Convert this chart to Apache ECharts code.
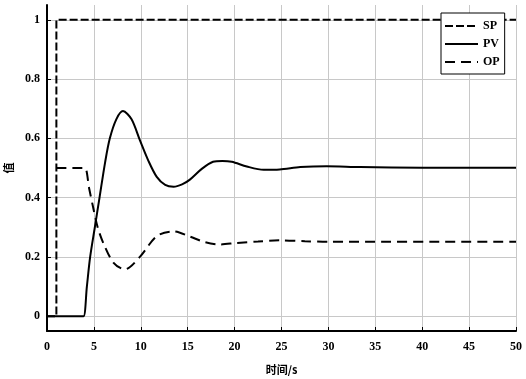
<!DOCTYPE html>
<html>
<head>
<meta charset="utf-8">
<script src="https://cdn.jsdelivr.net/npm/echarts@6/dist/echarts.min.js"></script>
<style>
  html, body { margin: 0; padding: 0; background: #fff; }
  #chart { width: 526px; height: 379px; }
</style>
</head>
<body>
<div id="chart"></div>
<script>
// values, [time s, value]
const spData = [[0, 0], [1, 0], [1, 1], [50, 1]]
const pvData = [
  [0, 0], [3.5, 0], [3.9, 0], [4.25, 0.1], [4.6, 0.2], [5.1, 0.3], [5.6, 0.4], [6.2, 0.52],
  [6.7, 0.6], [7.4, 0.665], [8.1, 0.692],
  [9, 0.665], [9.9, 0.594], [10.8, 0.525], [11.7, 0.47], [12.6, 0.443], [13.5, 0.437],
  [14.4, 0.445], [15.2, 0.46], [16.5, 0.497], [17.7, 0.521], [18.7, 0.524], [19.7, 0.521],
  [21.3, 0.505], [23.1, 0.494], [24.8, 0.495], [27, 0.503], [29.8, 0.506], [33.4, 0.503],
  [40, 0.501], [50, 0.501]
]
const opData = [
  [1, 0.5], [3.6, 0.5], [4.05, 0.5], [4.5, 0.43], [4.9, 0.37], [5.4, 0.3], [6, 0.247],
  [7.1, 0.18], [8.3, 0.158], [9.9, 0.2],
  [11.7, 0.27], [13.5, 0.286], [15.2, 0.269], [16.8, 0.25], [18.4, 0.242], [20.2, 0.247],
  [22.5, 0.252], [24.8, 0.256], [27.5, 0.253], [30.1, 0.251], [50, 0.251]
]
const yTicks = [0, 0.2, 0.4, 0.6, 0.8, 1]

const font = 'Liberation Serif'
const chart = echarts.init(document.getElementById('chart'))
chart.setOption({
  animation: false,
  backgroundColor: '#fff',
  grid: { left: 47, right: 10, top: 5, bottom: 48, outerBoundsMode: 'none', containLabel: false },
  legend: {
    left: 441,
    top: 13,
    orient: 'vertical',
    itemWidth: 33,
    itemHeight: 12,
    itemGap: 6,
    padding: [7, 5, 6, 3],
    borderColor: '#000',
    borderWidth: 1,
    backgroundColor: '#fff',
    itemStyle: { opacity: 0 },
    textStyle: { fontFamily: font, fontWeight: 'bold', fontSize: 12, color: '#000' },
    data: ['SP', 'PV', 'OP']
  },
  xAxis: {
    type: 'value',
    min: 0,
    max: 50,
    interval: 5,
    name: '时间/s',
    nameLocation: 'middle',
    nameGap: 33,
    nameTextStyle: { fontFamily: 'Noto Sans CJK SC', fontWeight: 'bold', fontSize: 11, color: '#000' },
    axisLine: { onZero: false, lineStyle: { color: '#000', width: 2 } },
    axisTick: { inside: true, length: 4, lineStyle: { color: '#000', width: 1 } },
    axisLabel: { margin: 10, fontFamily: font, fontWeight: 'bold', fontSize: 12, color: '#000' },
    splitLine: { show: true, lineStyle: { color: '#c8c8c8', width: 1 } }
  },
  yAxis: {
    type: 'value',
    min: -0.05,
    max: 1.05,
    name: '值',
    nameLocation: 'middle',
    nameGap: 33,
    nameTextStyle: { fontFamily: 'Noto Sans CJK SC', fontWeight: 'bold', fontSize: 11, color: '#000' },
    axisLine: { show: true, onZero: false, lineStyle: { color: '#000', width: 2 } },
    axisTick: { show: true, inside: true, length: 4, customValues: yTicks, lineStyle: { color: '#000', width: 1 } },
    axisLabel: { margin: 7, customValues: yTicks, fontFamily: font, fontWeight: 'bold', fontSize: 12, color: '#000' },
    splitLine: { show: true, lineStyle: { color: '#c8c8c8', width: 1 } }
  },
  series: [
    {
      name: 'SP', type: 'line', data: spData, symbol: 'none',
      itemStyle: { color: '#000' },
      lineStyle: { color: '#000', width: 2, type: [8, 3] }
    },
    {
      name: 'PV', type: 'line', data: pvData, symbol: 'none', smooth: 0.3,
      itemStyle: { color: '#000' },
      lineStyle: { color: '#000', width: 2, type: 'solid' }
    },
    {
      name: 'OP', type: 'line', data: opData, symbol: 'none', smooth: 0.3,
      itemStyle: { color: '#000' },
      lineStyle: { color: '#000', width: 2, type: [10, 6] }
    }
  ]
})
</script>
</body>
</html>
